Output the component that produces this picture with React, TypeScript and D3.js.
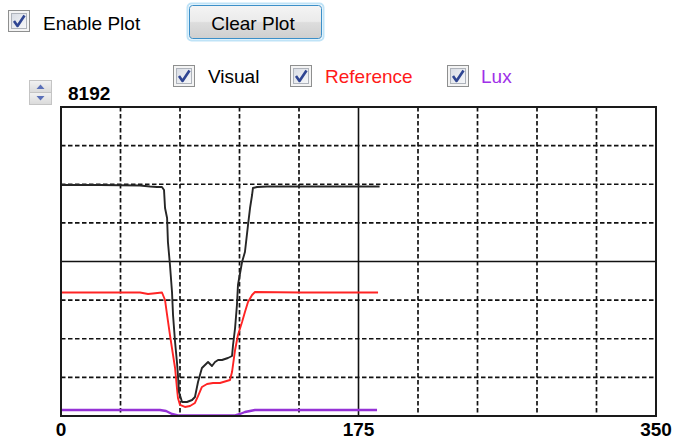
import React from "react";
import * as d3 from "d3";

// ---- data (x in samples, y in raw counts) ----
const visualX = [0, 23, 46.5, 52.4, 56.5, 59.4, 60.6, 61.2, 62.4, 62.9, 64.1, 65.3, 65.9, 67.1, 68.2, 68.8, 69.4, 71.2, 74.1, 77.1, 78.8, 80.6, 82.9, 84.7, 86.5, 88.8, 90.6, 92.4, 94.7, 98.2, 100.6, 101.2, 102.4, 103.5, 104.1, 106.5, 108.2, 110.0, 111.2, 112.4, 112.9, 115.3, 121.2, 140.6, 164.1, 187.4];
const visualValues = [6124, 6124, 6111, 6084, 6071, 6071, 5991, 5514, 5249, 4613, 4003, 3287, 2678, 1962, 1432, 1087, 636, 371, 371, 424, 504, 901, 1272, 1352, 1432, 1326, 1432, 1485, 1485, 1538, 1591, 1882, 2333, 2943, 3473, 4083, 4348, 5063, 5514, 5859, 6044, 6071, 6084, 6084, 6084, 6084];

const referenceX = [0, 23, 46.5, 51.2, 54.1, 59.4, 61.2, 62.4, 64.1, 65.9, 67.1, 68.2, 68.8, 70.0, 72.9, 75.9, 78.8, 80.6, 82.9, 85.9, 89.4, 93.5, 99.4, 100.6, 102.4, 104.1, 106.5, 108.2, 110.0, 112.4, 114.1, 140.6, 186.5];
const referenceValues = [3274, 3274, 3274, 3234, 3247, 3274, 3075, 2678, 2147, 1617, 1272, 742, 477, 292, 239, 265, 345, 530, 769, 848, 875, 875, 954, 1166, 1750, 2147, 2492, 2757, 3022, 3208, 3287, 3274, 3274];

const luxX = [0, 46, 58.2, 61.8, 65.3, 68.8, 102.4, 105.3, 108.2, 114.1, 185.9];
const luxValues = [159, 159, 159, 133, 53, 13, 13, 53, 106, 159, 159];

const xDomain = [0, 350];
const yDomain = [0, 8192];
const xTickLabels = [0, 175, 350];
const yMaxLabel = "8192";
const legendItems = ["Visual", "Reference", "Lux"];
const legendColors = ["#000000", "#ff1a1a", "#a030e8"];
const lineColors = ["#262626", "#ff2424", "#9532d6"];

const FONT = "'Liberation Sans', Arial, sans-serif";

function CheckBox({ x, y }: { x: number; y: number }) {
  return (
    <g>
      <rect x={x + 0.5} y={y + 0.5} width={21} height={21} fill="#f4f4f4" stroke="#8e8f8f" />
      <rect x={x + 3.5} y={y + 3.5} width={15} height={15} fill="url(#cbFill)" stroke="#aeb3bb" />
      <path d={`M${x + 6},${y + 11} L${x + 9.5},${y + 16} L${x + 16.5},${y + 5.5}`} fill="none" stroke="#2f4592" strokeWidth={2.6} strokeLinejoin="round" />
    </g>
  );
}

export default function App() {
  const left = 61, right = 656, top = 107, bottom = 416;
  const x = d3.scaleLinear().domain(xDomain).range([left, right]);
  const y = d3.scaleLinear().domain(yDomain).range([bottom, top]);
  const xGrid = d3.range(0, 351, 35);
  const yGrid = d3.range(0, 8193, 1024);
  const line = d3.line<[number, number]>().x((d) => x(d[0])).y((d) => y(d[1]));
  const series = [
    visualX.map((v, i) => [v, visualValues[i]] as [number, number]),
    referenceX.map((v, i) => [v, referenceValues[i]] as [number, number]),
    luxX.map((v, i) => [v, luxValues[i]] as [number, number]),
  ];
  const legendPos = [173, 290, 447];
  const legendTextX = [208, 325, 481];

  return (
    <div style={{ position: "fixed", left: 0, top: 0 }}>
      <svg width={674} height={439} style={{ display: "block", background: "#fff" }}>
        <defs>
          <linearGradient id="cbFill" x1="0" y1="0" x2="1" y2="1">
            <stop offset="0" stopColor="#d8dce4" />
            <stop offset="1" stopColor="#f7f8fa" />
          </linearGradient>
          <linearGradient id="btnFill" x1="0" y1="0" x2="0" y2="1">
            <stop offset="0" stopColor="#f4f4f4" />
            <stop offset="0.48" stopColor="#ebebeb" />
            <stop offset="0.52" stopColor="#dddddd" />
            <stop offset="1" stopColor="#cfcfcf" />
          </linearGradient>
          <linearGradient id="spinFill" x1="0" y1="0" x2="0" y2="1">
            <stop offset="0" stopColor="#f2f2f2" />
            <stop offset="1" stopColor="#dadada" />
          </linearGradient>
        </defs>

        {/* top controls */}
        <CheckBox x={8} y={10} />
        <text x={43} y={30} fontFamily={FONT} fontSize={19} fill="#000">Enable Plot</text>
        <rect x={187.5} y={3.5} width={136} height={37} rx={4} fill="none" stroke="#bfe3f7" strokeWidth={2} />
        <rect x={189.5} y={5.5} width={132} height={33} rx={3} fill="url(#btnFill)" stroke="#3c8fc8" />
        <text x={253} y={30} textAnchor="middle" fontFamily={FONT} fontSize={19} fill="#000">Clear Plot</text>

        {/* legend */}
        {legendItems.map((name, i) => (
          <g key={name}>
            <CheckBox x={legendPos[i]} y={65} />
            <text x={legendTextX[i]} y={83} fontFamily={FONT} fontSize={19} fill={legendColors[i]}>{name}</text>
          </g>
        ))}

        {/* spin button */}
        <rect x={29.5} y={80.5} width={22} height={12} fill="url(#spinFill)" stroke="#c4c4c4" />
        <rect x={29.5} y={92.5} width={22} height={12} fill="url(#spinFill)" stroke="#c4c4c4" />
        <path d="M36.5,89 L40.5,84.5 L44.5,89 Z" fill="#5a6fb8" />
        <path d="M36.5,96 L40.5,100.5 L44.5,96 Z" fill="#5a6fb8" />
        <text x={68} y={100} fontFamily={FONT} fontSize={19} fontWeight="bold" fill="#000">{yMaxLabel}</text>

        {/* grid */}
        <rect x={left} y={top} width={right - left} height={bottom - top} fill="#fff" />
        {xGrid.slice(1, -1).map((v) => (
          <line key={"gx" + v} x1={x(v)} x2={x(v)} y1={top} y2={bottom} stroke="#111"
            strokeWidth={v === 175 ? 1.6 : 1.7} strokeDasharray={v === 175 ? undefined : "4.5,2.5"} />
        ))}
        {yGrid.slice(1, -1).map((v) => (
          <line key={"gy" + v} x1={left} x2={right} y1={y(v)} y2={y(v)} stroke="#111"
            strokeWidth={v === 4096 ? 1.6 : 1.7} strokeDasharray={v === 4096 ? undefined : "4.5,2.5"} />
        ))}

        {/* series */}
        {[2, 1, 0].map((i) => (
          <path key={"s" + i} d={line(series[i]) || ""} fill="none" stroke={lineColors[i]} strokeWidth={i === 2 ? 2.4 : 1.9} strokeLinejoin="round" />
        ))}

        <rect x={left} y={top} width={right - left} height={bottom - top} fill="none" stroke="#1a1a1a" strokeWidth={2} />

        {/* x tick labels */}
        {xTickLabels.map((v) => (
          <text key={"t" + v} x={x(v)} y={436} textAnchor="middle" fontFamily={FONT} fontSize={19} fontWeight="bold" fill="#000">{v}</text>
        ))}
      </svg>
    </div>
  );
}
